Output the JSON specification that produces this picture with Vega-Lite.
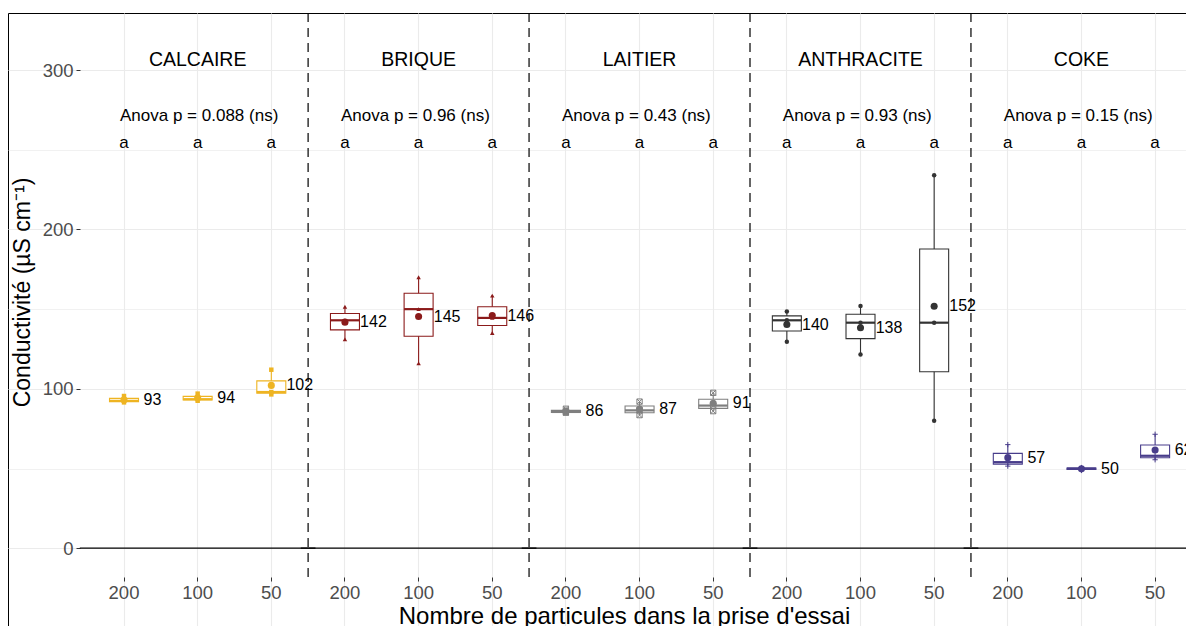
{
  "$schema": "https://vega.github.io/schema/vega-lite/v6.json",
  "width": 1178,
  "height": 613,
  "autosize": {"type": "none"},
  "padding": {"left": 8, "top": 13, "right": 0, "bottom": 0},
  "config": {"font": "Liberation Sans", "view": {"stroke": "#000000", "strokeWidth": 1}},
  "datasets": {
    "obs": [
      {"mat": "CALCAIRE", "n": "200", "g": "CALCAIRE-200", "v": 91.5},
      {"mat": "CALCAIRE", "n": "200", "g": "CALCAIRE-200", "v": 92.5},
      {"mat": "CALCAIRE", "n": "200", "g": "CALCAIRE-200", "v": 95.5},
      {"mat": "CALCAIRE", "n": "100", "g": "CALCAIRE-100", "v": 92.5},
      {"mat": "CALCAIRE", "n": "100", "g": "CALCAIRE-100", "v": 93.5},
      {"mat": "CALCAIRE", "n": "100", "g": "CALCAIRE-100", "v": 97},
      {"mat": "CALCAIRE", "n": "50", "g": "CALCAIRE-50", "v": 96.5},
      {"mat": "CALCAIRE", "n": "50", "g": "CALCAIRE-50", "v": 98},
      {"mat": "CALCAIRE", "n": "50", "g": "CALCAIRE-50", "v": 112},
      {"mat": "BRIQUE", "n": "200", "g": "BRIQUE-200", "v": 131},
      {"mat": "BRIQUE", "n": "200", "g": "BRIQUE-200", "v": 143},
      {"mat": "BRIQUE", "n": "200", "g": "BRIQUE-200", "v": 151.5},
      {"mat": "BRIQUE", "n": "100", "g": "BRIQUE-100", "v": 116},
      {"mat": "BRIQUE", "n": "100", "g": "BRIQUE-100", "v": 150},
      {"mat": "BRIQUE", "n": "100", "g": "BRIQUE-100", "v": 170},
      {"mat": "BRIQUE", "n": "50", "g": "BRIQUE-50", "v": 135},
      {"mat": "BRIQUE", "n": "50", "g": "BRIQUE-50", "v": 144.5},
      {"mat": "BRIQUE", "n": "50", "g": "BRIQUE-50", "v": 158.5},
      {"mat": "LAITIER", "n": "200", "g": "LAITIER-200", "v": 85},
      {"mat": "LAITIER", "n": "200", "g": "LAITIER-200", "v": 85.5},
      {"mat": "LAITIER", "n": "200", "g": "LAITIER-200", "v": 87.5},
      {"mat": "LAITIER", "n": "100", "g": "LAITIER-100", "v": 83.5},
      {"mat": "LAITIER", "n": "100", "g": "LAITIER-100", "v": 86.5},
      {"mat": "LAITIER", "n": "100", "g": "LAITIER-100", "v": 92},
      {"mat": "LAITIER", "n": "50", "g": "LAITIER-50", "v": 86},
      {"mat": "LAITIER", "n": "50", "g": "LAITIER-50", "v": 89.5},
      {"mat": "LAITIER", "n": "50", "g": "LAITIER-50", "v": 97.5},
      {"mat": "ANTHRACITE", "n": "200", "g": "ANTHRACITE-200", "v": 129.5},
      {"mat": "ANTHRACITE", "n": "200", "g": "ANTHRACITE-200", "v": 143},
      {"mat": "ANTHRACITE", "n": "200", "g": "ANTHRACITE-200", "v": 148.5},
      {"mat": "ANTHRACITE", "n": "100", "g": "ANTHRACITE-100", "v": 121.5},
      {"mat": "ANTHRACITE", "n": "100", "g": "ANTHRACITE-100", "v": 141.5},
      {"mat": "ANTHRACITE", "n": "100", "g": "ANTHRACITE-100", "v": 152},
      {"mat": "ANTHRACITE", "n": "50", "g": "ANTHRACITE-50", "v": 80},
      {"mat": "ANTHRACITE", "n": "50", "g": "ANTHRACITE-50", "v": 141.5},
      {"mat": "ANTHRACITE", "n": "50", "g": "ANTHRACITE-50", "v": 234},
      {"mat": "COKE", "n": "200", "g": "COKE-200", "v": 51.5},
      {"mat": "COKE", "n": "200", "g": "COKE-200", "v": 54},
      {"mat": "COKE", "n": "200", "g": "COKE-200", "v": 65},
      {"mat": "COKE", "n": "100", "g": "COKE-100", "v": 48.8},
      {"mat": "COKE", "n": "100", "g": "COKE-100", "v": 50},
      {"mat": "COKE", "n": "100", "g": "COKE-100", "v": 50.6},
      {"mat": "COKE", "n": "50", "g": "COKE-50", "v": 55.5},
      {"mat": "COKE", "n": "50", "g": "COKE-50", "v": 58},
      {"mat": "COKE", "n": "50", "g": "COKE-50", "v": 71.5}
    ],
    "tests": [
      {"mat": "CALCAIRE", "first": "CALCAIRE-200", "mid": "CALCAIRE-100", "last": "CALCAIRE-50", "anova": "Anova p = 0.088 (ns)"},
      {"mat": "BRIQUE", "first": "BRIQUE-200", "mid": "BRIQUE-100", "last": "BRIQUE-50", "anova": "Anova p = 0.96 (ns)"},
      {"mat": "LAITIER", "first": "LAITIER-200", "mid": "LAITIER-100", "last": "LAITIER-50", "anova": "Anova p = 0.43 (ns)"},
      {"mat": "ANTHRACITE", "first": "ANTHRACITE-200", "mid": "ANTHRACITE-100", "last": "ANTHRACITE-50", "anova": "Anova p = 0.93 (ns)"},
      {"mat": "COKE", "first": "COKE-200", "mid": "COKE-100", "last": "COKE-50", "anova": "Anova p = 0.15 (ns)"}
    ],
    "letters": [
      {"g": "CALCAIRE-200", "letter": "a"}, {"g": "CALCAIRE-100", "letter": "a"}, {"g": "CALCAIRE-50", "letter": "a"},
      {"g": "BRIQUE-200", "letter": "a"}, {"g": "BRIQUE-100", "letter": "a"}, {"g": "BRIQUE-50", "letter": "a"},
      {"g": "LAITIER-200", "letter": "a"}, {"g": "LAITIER-100", "letter": "a"}, {"g": "LAITIER-50", "letter": "a"},
      {"g": "ANTHRACITE-200", "letter": "a"}, {"g": "ANTHRACITE-100", "letter": "a"}, {"g": "ANTHRACITE-50", "letter": "a"},
      {"g": "COKE-200", "letter": "a"}, {"g": "COKE-100", "letter": "a"}, {"g": "COKE-50", "letter": "a"}
    ]
  },
  "layer": [
    {
      "data": {"name": "obs"},
      "transform": [
        {"aggregate": [
          {"op": "min", "field": "v", "as": "lo"},
          {"op": "q1", "field": "v", "as": "q1"},
          {"op": "median", "field": "v", "as": "med"},
          {"op": "q3", "field": "v", "as": "q3"},
          {"op": "max", "field": "v", "as": "hi"},
          {"op": "mean", "field": "v", "as": "mean"}
        ], "groupby": ["g", "mat"]}
      ],
      "layer": [
        {
          "mark": {"type": "rule", "strokeWidth": 1.1},
          "encoding": {
            "x": {
              "field": "g", "type": "nominal", "title": "Nombre de particules dans la prise d'essai",
              "scale": {
                "domain": ["CALCAIRE-200", "CALCAIRE-100", "CALCAIRE-50", "BRIQUE-200", "BRIQUE-100", "BRIQUE-50", "LAITIER-200", "LAITIER-100", "LAITIER-50", "ANTHRACITE-200", "ANTHRACITE-100", "ANTHRACITE-50", "COKE-200", "COKE-100", "COKE-50"],
                "paddingInner": 0.5, "paddingOuter": 0.7473, "align": 0.8866, "round": false
              },
              "axis": {
                "orient": "bottom", "offset": -49, "domain": false, "labelAngle": 0,
                "labelExpr": "split(datum.label, '-')[1]",
                "labelFontSize": 18.5, "labelColor": "#4D4D4D", "labelPadding": 2,
                "tickSize": 4, "tickColor": "#333333", "tickWidth": 1,
                "grid": true, "gridColor": "#EBEBEB", "gridWidth": 1.1,
                "titleFontSize": 24, "titleFontWeight": "normal", "titleColor": "#000000", "titlePadding": 3, "titleX": 616,
                "encode": {"grid": {"update": {"y": {"value": 0}}}}
              }
            },
            "y": {
              "field": "lo", "type": "quantitative", "title": "Conductivité (µS cm⁻¹)",
              "scale": {"domain": [-48.8, 335.8], "nice": false, "zero": false},
              "axis": {
                "orient": "left", "offset": -72, "domain": false,
                "values": [0, 50, 100, 150, 200, 250, 300],
                "labelExpr": "datum.value % 100 === 0 ? datum.label : ''",
                "labelFontSize": 18.5, "labelColor": "#4D4D4D", "labelPadding": 3,
                "tickSize": 4, "tickColor": "#333333", "tickWidth": 1,
                "tickOpacity": {"condition": {"test": "datum.value % 100 !== 0", "value": 0}, "value": 1},
                "grid": true, "gridColor": "#EBEBEB",
                "gridWidth": {"condition": {"test": "datum.value % 100 !== 0", "value": 0.7}, "value": 1.1},
                "titleFontSize": 23, "titleFontWeight": "normal", "titleColor": "#000000", "titlePadding": 8, "titleY": 279,
                "encode": {"grid": {"update": {"x": {"value": 0}}}}
              }
            },
            "y2": {"field": "hi"},
            "color": {"field": "mat", "type": "nominal", "legend": null,
              "scale": {"domain": ["CALCAIRE", "BRIQUE", "LAITIER", "ANTHRACITE", "COKE"], "range": ["#EEB422", "#8B1A1A", "#7F7F7F", "#333333", "#483D8B"]}}
          }
        },
        {
          "mark": {"type": "bar", "width": 29, "fill": "#FFFFFF", "strokeWidth": 1.1},
          "encoding": {
            "x": {"field": "g", "type": "nominal", "title": "Nombre de particules dans la prise d'essai"},
            "y": {"field": "q1", "type": "quantitative", "title": "Conductivité (µS cm⁻¹)"},
            "y2": {"field": "q3"},
            "stroke": {"field": "mat", "type": "nominal", "legend": null,
              "scale": {"domain": ["CALCAIRE", "BRIQUE", "LAITIER", "ANTHRACITE", "COKE"], "range": ["#EEB422", "#8B1A1A", "#7F7F7F", "#333333", "#483D8B"]}}
          }
        },
        {
          "mark": {"type": "tick", "size": 29, "thickness": 2.2, "opacity": 1},
          "encoding": {
            "x": {"field": "g", "type": "nominal", "title": "Nombre de particules dans la prise d'essai"},
            "y": {"field": "med", "type": "quantitative", "title": "Conductivité (µS cm⁻¹)"},
            "color": {"field": "mat", "type": "nominal", "legend": null,
              "scale": {"domain": ["CALCAIRE", "BRIQUE", "LAITIER", "ANTHRACITE", "COKE"], "range": ["#EEB422", "#8B1A1A", "#7F7F7F", "#333333", "#483D8B"]}}
          }
        }
      ]
    },
    {
      "data": {"name": "tests"},
      "mark": {"type": "rule", "color": "#000000", "strokeWidth": 1.2, "xOffset": -44.2, "x2Offset": 44.2},
      "encoding": {
        "x": {"field": "first", "type": "nominal", "title": "Nombre de particules dans la prise d'essai"},
        "x2": {"field": "last"},
        "y": {"datum": 0}
      }
    },
    {
      "data": {"name": "tests"},
      "transform": [{"filter": "datum.mat !== 'COKE'"}],
      "mark": {"type": "rule", "color": "#000000", "strokeWidth": 1.2, "strokeDash": [9, 6], "xOffset": 36.8},
      "encoding": {
        "x": {"field": "last", "type": "nominal", "title": "Nombre de particules dans la prise d'essai"},
        "y": {"datum": 335.8},
        "y2": {"datum": -18}
      }
    },
    {
      "data": {"name": "obs"},
      "transform": [{"filter": {"field": "mat", "oneOf": ["CALCAIRE", "BRIQUE", "ANTHRACITE"]}}],
      "mark": {"type": "point", "filled": true, "size": 20, "opacity": 1},
      "encoding": {
        "x": {"field": "g", "type": "nominal", "title": "Nombre de particules dans la prise d'essai"},
        "y": {"field": "v", "type": "quantitative", "title": "Conductivité (µS cm⁻¹)"},
        "color": {"field": "mat", "type": "nominal", "legend": null,
          "scale": {"domain": ["CALCAIRE", "BRIQUE", "LAITIER", "ANTHRACITE", "COKE"], "range": ["#EEB422", "#8B1A1A", "#7F7F7F", "#333333", "#483D8B"]}},
        "shape": {"field": "mat", "type": "nominal", "legend": null,
          "scale": {"domain": ["CALCAIRE", "BRIQUE", "LAITIER", "ANTHRACITE", "COKE"], "range": ["square", "triangle-up", "M-1,-1H1V1H-1Z M-1,-1L1,1 M1,-1L-1,1", "circle", "M-1,0H1 M0,-1V1"]}}
      }
    },
    {
      "data": {"name": "obs"},
      "transform": [{"filter": {"field": "mat", "oneOf": ["LAITIER", "COKE"]}}],
      "mark": {"type": "point", "filled": false, "size": 28, "strokeWidth": 1, "opacity": 1},
      "encoding": {
        "x": {"field": "g", "type": "nominal", "title": "Nombre de particules dans la prise d'essai"},
        "y": {"field": "v", "type": "quantitative", "title": "Conductivité (µS cm⁻¹)"},
        "color": {"field": "mat", "type": "nominal", "legend": null,
          "scale": {"domain": ["CALCAIRE", "BRIQUE", "LAITIER", "ANTHRACITE", "COKE"], "range": ["#EEB422", "#8B1A1A", "#7F7F7F", "#333333", "#483D8B"]}},
        "shape": {"field": "mat", "type": "nominal", "legend": null,
          "scale": {"domain": ["CALCAIRE", "BRIQUE", "LAITIER", "ANTHRACITE", "COKE"], "range": ["square", "triangle-up", "M-1,-1H1V1H-1Z M-1,-1L1,1 M1,-1L-1,1", "circle", "M-1,0H1 M0,-1V1"]}}
      }
    },
    {
      "data": {"name": "obs"},
      "transform": [
        {"aggregate": [{"op": "mean", "field": "v", "as": "mean"}], "groupby": ["g", "mat"]}
      ],
      "layer": [
        {
          "mark": {"type": "circle", "size": 50, "opacity": 1},
          "encoding": {
            "x": {"field": "g", "type": "nominal", "title": "Nombre de particules dans la prise d'essai"},
            "y": {"field": "mean", "type": "quantitative", "title": "Conductivité (µS cm⁻¹)"},
            "color": {"field": "mat", "type": "nominal", "legend": null,
              "scale": {"domain": ["CALCAIRE", "BRIQUE", "LAITIER", "ANTHRACITE", "COKE"], "range": ["#EEB422", "#8B1A1A", "#7F7F7F", "#333333", "#483D8B"]}}
          }
        },
        {
          "mark": {"type": "text", "dx": 28.5, "fontSize": 16, "align": "center", "baseline": "middle", "color": "#000000"},
          "encoding": {
            "x": {"field": "g", "type": "nominal", "title": "Nombre de particules dans la prise d'essai"},
            "y": {"field": "mean", "type": "quantitative", "title": "Conductivité (µS cm⁻¹)"},
            "text": {"field": "mean", "type": "quantitative", "format": ".0f"}
          }
        }
      ]
    },
    {
      "data": {"name": "tests"},
      "mark": {"type": "text", "fontSize": 19.5, "color": "#000000", "baseline": "middle", "align": "center"},
      "encoding": {
        "x": {"field": "mid", "type": "nominal", "title": "Nombre de particules dans la prise d'essai"},
        "y": {"datum": 306.5},
        "text": {"field": "mat"}
      }
    },
    {
      "data": {"name": "tests"},
      "mark": {"type": "text", "fontSize": 17, "color": "#000000", "baseline": "middle", "align": "left", "dx": -4},
      "encoding": {
        "x": {"field": "first", "type": "nominal", "title": "Nombre de particules dans la prise d'essai"},
        "y": {"datum": 271},
        "text": {"field": "anova"}
      }
    },
    {
      "data": {"name": "letters"},
      "mark": {"type": "text", "fontSize": 17, "color": "#000000", "baseline": "middle", "align": "center"},
      "encoding": {
        "x": {"field": "g", "type": "nominal", "title": "Nombre de particules dans la prise d'essai"},
        "y": {"datum": 254},
        "text": {"field": "letter"}
      }
    }
  ]
}
